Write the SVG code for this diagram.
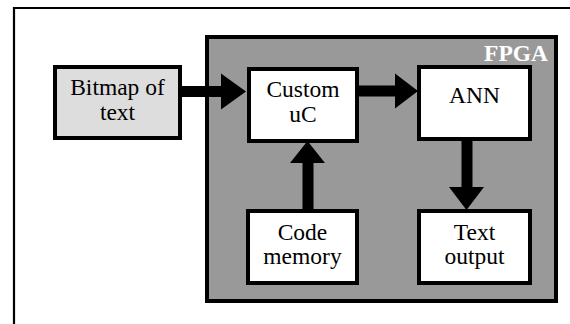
<svg xmlns="http://www.w3.org/2000/svg" width="570" height="324" viewBox="0 0 570 324">
<style>
.box{fill:#fff;stroke:#000;stroke-width:4}
.lbl{font-family:"Liberation Serif","Times New Roman",serif;font-size:23.5px;fill:#000;text-anchor:middle}
.arr{fill:#000;stroke:none}
</style>
<rect width="570" height="324" fill="#fff"/>
<path d="M14,324 V8 H570" fill="none" stroke="#000" stroke-width="2.2"/>
<g id="fpga">
<rect x="207" y="37" width="349" height="264" fill="#999999" stroke="#000" stroke-width="4"/>
<text x="548" y="61" font-family="Liberation Serif, serif" font-size="23.5" font-weight="bold" fill="#fff" text-anchor="end">FPGA</text>
</g>
<g id="bitmap">
<rect class="box" x="55" y="67" width="125" height="71" style="fill:#dddddd"/>
<text class="lbl" x="117.5" y="95">Bitmap of</text>
<text class="lbl" x="117.5" y="120">text</text>
</g>
<g id="custom">
<rect class="box" x="249" y="69" width="108" height="72"/>
<text class="lbl" x="303" y="97">Custom</text>
<text class="lbl" x="303" y="122">uC</text>
</g>
<g id="ann">
<rect class="box" x="419" y="67" width="111" height="72"/>
<text class="lbl" x="474.5" y="103">ANN</text>
</g>
<g id="code">
<rect class="box" x="248" y="211" width="109" height="72"/>
<text class="lbl" x="302.5" y="240">Code</text>
<text class="lbl" x="302.5" y="264">memory</text>
</g>
<g id="textout">
<rect class="box" x="419" y="211" width="111" height="72"/>
<text class="lbl" x="474.5" y="240">Text</text>
<text class="lbl" x="474.5" y="264">output</text>
</g>
<g id="connectors">
<polygon class="arr" points="182,86 221,86 221,73.5 246,91.5 221,109.5 221,97 182,97"/>
<polygon class="arr" points="359,85.5 395,85.5 395,73.5 418,91 395,108.5 395,96.5 359,96.5"/>
<polygon class="arr" points="302.5,210 302.5,163 290,163 307.5,141 325,163 313.5,163 313.5,210"/>
<polygon class="arr" points="461.5,140 461.5,187 449,187 466.5,210 484,187 472.5,187 472.5,140"/>
</g>
</svg>
